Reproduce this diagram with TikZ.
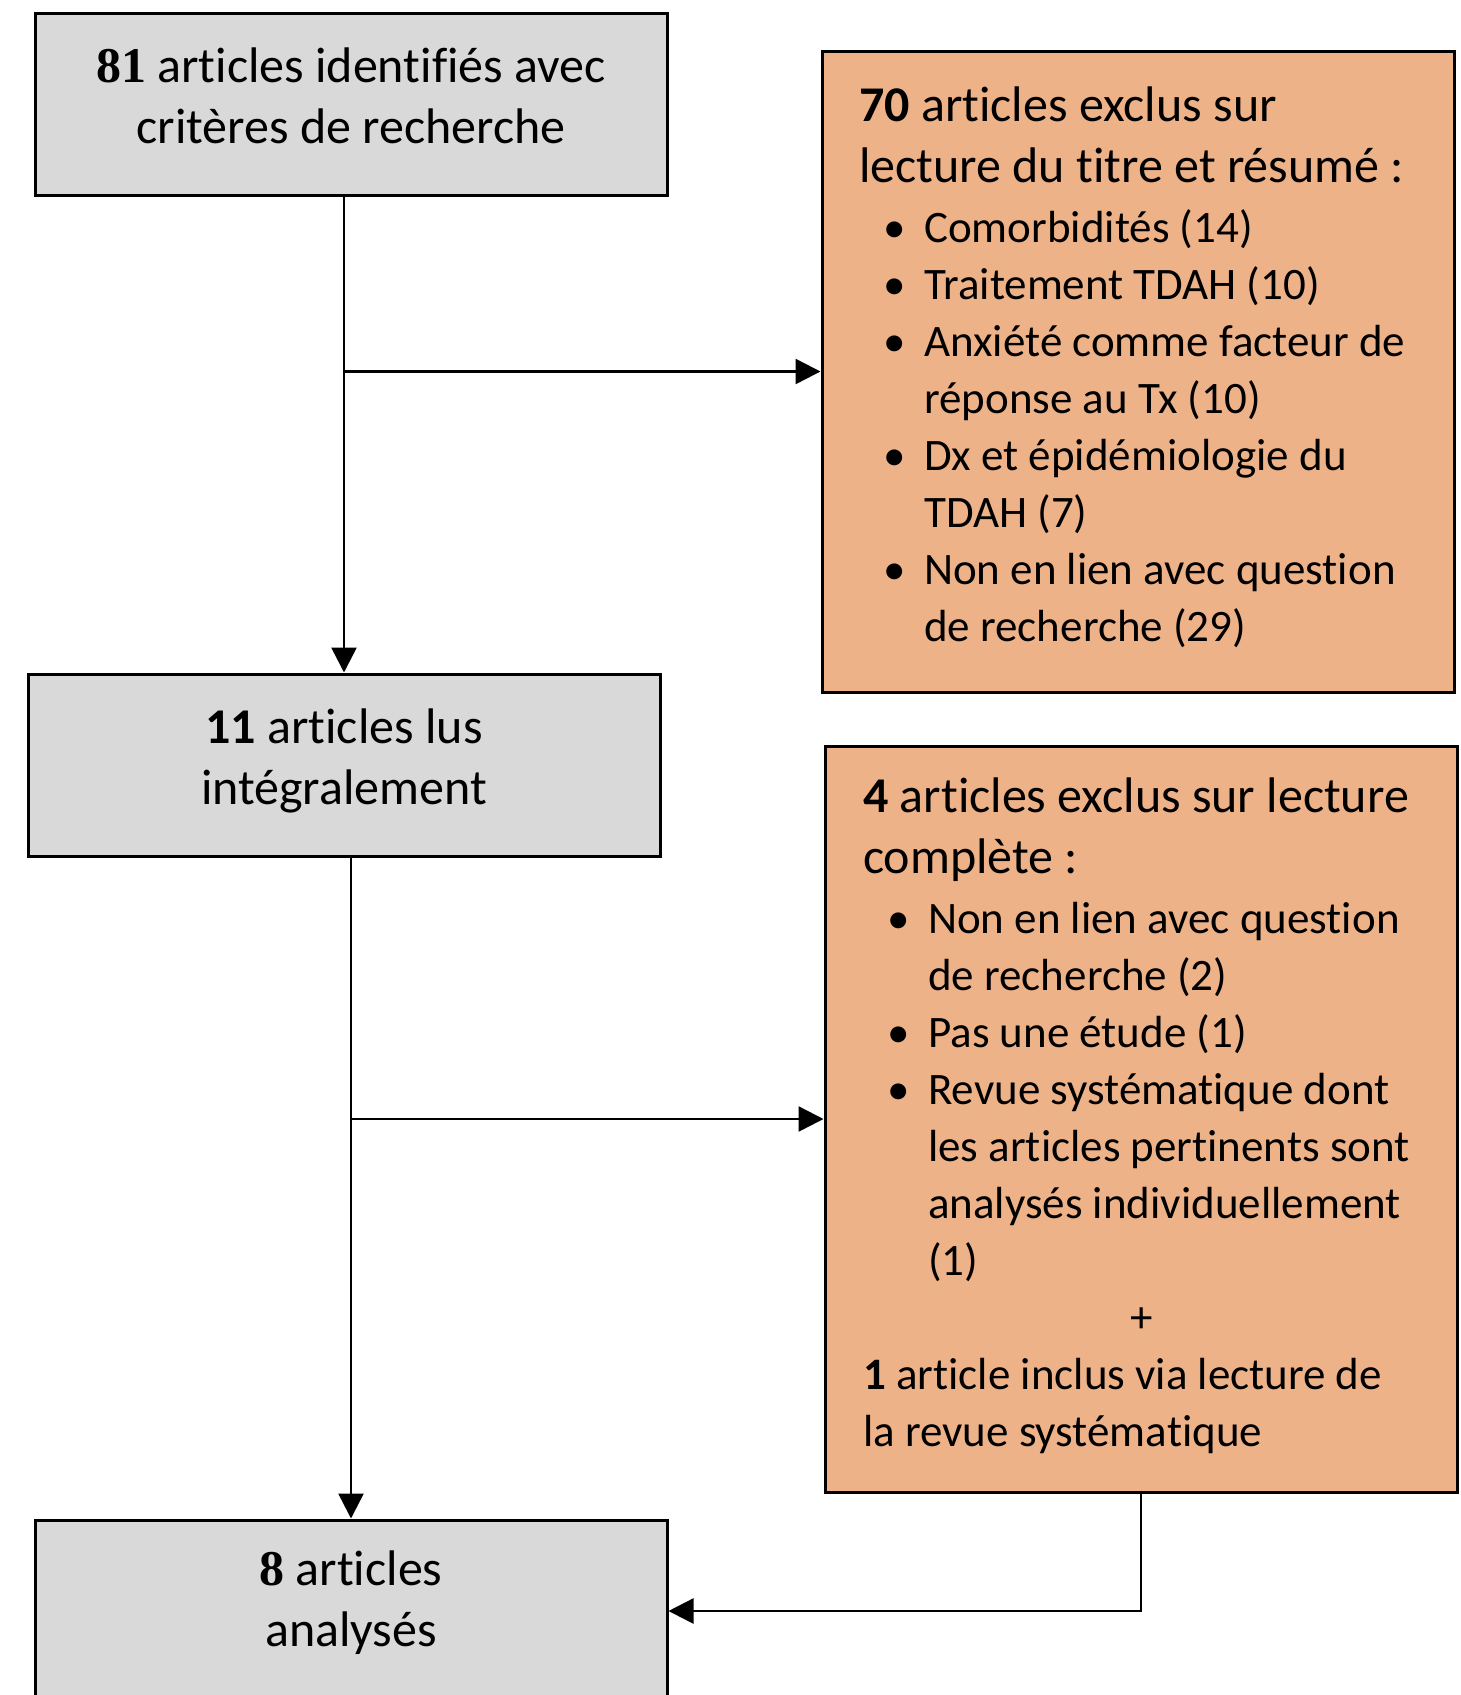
\documentclass[tikz,border=0pt]{standalone}
\usepackage{fontspec}
\setmainfont{Carlito}[Ligatures=NoCommon]
\newfontfamily\tnr{Liberation Serif}
\usetikzlibrary{arrows.meta}
\definecolor{boxgrey}{RGB}{217,217,217}
\definecolor{boxorange}{RGB}{238,178,136}
\newcommand{\HeadSize}{\fontsize{50}{61}\selectfont\spaceskip=0.226em\relax\xspaceskip=0.226em\relax}
\newcommand{\ItemSize}{\fontsize{45}{57}\selectfont\spaceskip=0.226em\relax\xspaceskip=0.226em\relax}
\newcommand{\Blt}{\textbullet}
\newcommand{\Itm}[1]{\par\noindent\hangindent=65pt\hangafter=0 \llap{\makebox[0pt]{\Blt}\hspace{30pt}}#1\par}
\tikzset{
  boxbase/.style={draw=black, line width=3pt, rectangle, inner sep=0pt, minimum width=632pt},
  greybox/.style={boxbase, fill=boxgrey, minimum height=182pt},
  orangebox/.style={boxbase, fill=boxorange},
  ctext/.style={anchor=base, text width=620pt, align=flush center, inner sep=0pt, font=\HeadSize},
  ltext/.style={anchor=base west, text width=600pt, inner sep=0pt},
  conn/.style={line width=2.5pt, -{Triangle[length=25pt,width=25pt]}},
}
\begin{document}
\begin{tikzpicture}[x=1pt,y=-1pt]
\useasboundingbox (0,0) rectangle (1460,1695);
% boxes
\node[greybox] (b1) at (351,104) {};
\node[orangebox, minimum height=641pt] (b70) at (1138,371.5) {};
\node[greybox] (b11) at (344,765) {};
\node[orangebox, minimum height=746pt] (b4) at (1141,1119) {};
\node[greybox] (b8) at (351,1611) {};
% texts
\node[ctext] (t1) at (351,82) {\HeadSize{\tnr\bfseries 81} articles identifiés avec\\critères de recherche};
\node[ctext] (t11) at (344,743) {\HeadSize\textbf{11} articles lus\\intégralement};
\node[ctext] (t8) at (351,1585) {\HeadSize{\tnr\bfseries 8} articles\\analysés};
\node[ltext] (t70) at (859,121) {\parskip=0pt\HeadSize
\noindent\textbf{70} articles exclus sur\newline lecture du titre et résumé :\par
\vspace{3pt}\ItemSize
\Itm{Comorbidités (14)}
\Itm{Traitement TDAH (10)}
\Itm{Anxiété comme facteur de\newline réponse au Tx (10)}
\Itm{Dx et épidémiologie du\newline TDAH (7)}
\Itm{Non en lien avec question\newline de recherche (29)}};
\node[ltext] (t4) at (863,812) {\parskip=0pt\HeadSize
\noindent\textbf{4} articles exclus sur lecture\newline complète :\par
\vspace{3pt}\ItemSize
\Itm{Non en lien avec question\newline de recherche (2)}
\Itm{Pas une étude (1)}
\Itm{Revue systématique dont\newline les articles pertinents sont\newline analysés individuellement\newline (1)}
\noindent\makebox[556pt]{+}\par
\noindent\textbf{1} article inclus via lecture de\newline la revue systématique\par};
% connectors
\draw[conn] (b11.north |- b1.south) -- (b11.north);
\draw[conn] (b70.west -| b11.north) -- (b70.west);
\draw[conn] (b8.north |- b11.south) -- (b8.north);
\draw[conn] (b4.west -| b8.north) -- (b4.west);
\draw[conn] (b4.south) |- (b8.east);
\end{tikzpicture}
\end{document}
